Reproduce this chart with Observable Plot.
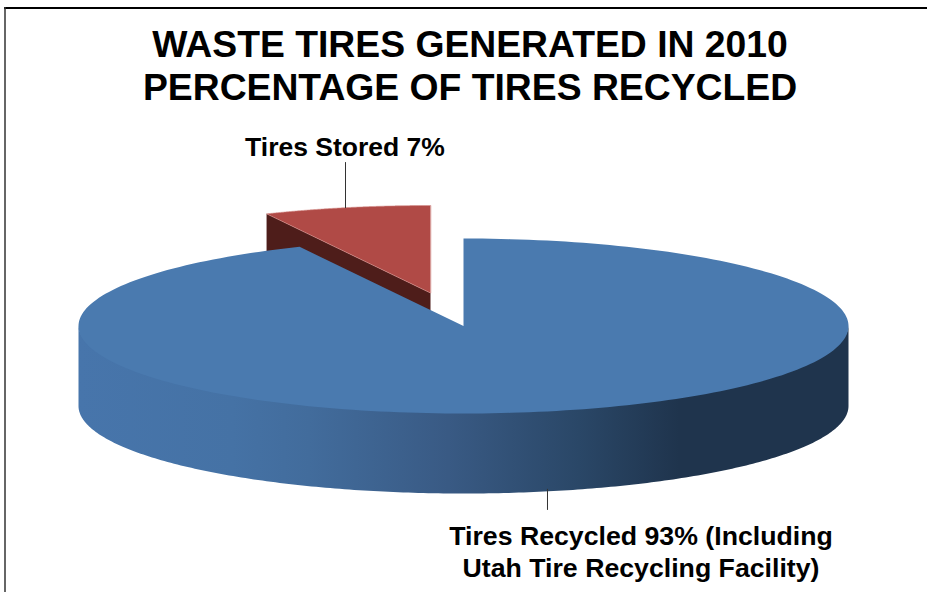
<!DOCTYPE html>
<html>
<head>
<meta charset="utf-8">
<script src="https://cdn.jsdelivr.net/npm/d3@7"></script>
<script src="https://cdn.jsdelivr.net/npm/@observablehq/plot@0.6"></script>
<style>
  html, body { margin: 0; padding: 0; background: #fff; }
  svg { display: block; }
</style>
</head>
<body>
<div id="chart"></div>
<script>
// Share of waste tires by outcome, 2010
const categories = ["Tires Recycled", "Tires Stored"];
const shares = [93, 7];
const titleLines = ["WASTE TIRES GENERATED IN 2010", "PERCENTAGE OF TIRES RECYCLED"];
const recycledLabel = ["Tires Recycled 93% (Including", "Utah Tire Recycling Facility)"];
const storedLabel = ["Tires Stored 7%"];

// Pie drawn as a tilted disc: ellipse on the page, with a wall below it
const W = 927, H = 592;
const cx = 463, cy = 325.5, rx = 385, ry = 87.5, depth = 80;
const explode = {dx: -33, dy: -33};

const total = d3.sum(shares);
const toAngle = (p) => (p / total) * 2 * Math.PI; // clockwise from 12 o'clock
const rim = (a, off = {dx: 0, dy: 0}, drop = 0) => ({
  x: cx + off.dx + rx * Math.sin(a),
  y: cy + off.dy + drop - ry * Math.cos(a)
});
const arc = (a0, a1, off, drop) =>
  d3.range(0, 241).map((i) => rim(a0 + ((a1 - a0) * i) / 240, off, drop));

const recycledEnd = toAngle(shares[0]);
const apex = {x: cx, y: cy};
const storedApex = {x: cx + explode.dx, y: cy + explode.dy};

// Top faces
const recycledTop = [apex, ...arc(0, recycledEnd)];
const storedTop = [storedApex, ...arc(recycledEnd, 2 * Math.PI, explode)];

// Front wall of the large slice; its upper edge tucks under the top face
const frontWall = [
  ...arc(Math.PI / 2, 1.5 * Math.PI, undefined, -1.5),
  ...arc(1.5 * Math.PI, Math.PI / 2, undefined, depth)
];

// Cut face of the small slice, mostly hidden behind the large one
const cutStart = rim(recycledEnd, explode);
const storedCut = [
  cutStart,
  storedApex,
  {x: storedApex.x, y: storedApex.y + depth},
  {x: cutStart.x, y: cutStart.y + depth}
];

// Leader lines leave each slice at its mid-angle
const recycledMid = rim(toAngle(shares[0] / 2), undefined, depth);
const storedMid = rim(toAngle(shares[0] + shares[1] / 2), explode);
const leaders = [
  {x: recycledMid.x, y1: recycledMid.y - 2, y2: recycledMid.y + 19},
  {x: storedMid.x - 1, y1: storedMid.y + 1, y2: storedMid.y - 45}
];

const texts = [
  ...titleLines.map((t, i) => ({t, x: 469.5, y: 45 + i * 43, size: 37.3})),
  ...storedLabel.map((t) => ({t, x: 344.5, y: 147, size: 26.5})),
  ...recycledLabel.map((t, i) => ({t, x: 640.5, y: 536 + i * 32, size: 26.7}))
];

const wallGradient = () => {
  const defs = d3.create("svg:defs");
  const g = defs.append("linearGradient").attr("id", "wallShade")
    .attr("x1", 0).attr("x2", 1).attr("y1", 0).attr("y2", 0);
  [[0, "#4775ab"], [0.2, "#4572a5"], [0.3, "#426c9c"], [0.48, "#395a84"],
   [0.65, "#2a4767"], [0.78, "#1f344d"], [1, "#1f344d"]].forEach(([o, c]) =>
    g.append("stop").attr("offset", o).attr("stop-color", c));
  return defs.node();
};

const line = (data, fill, extra = {}) =>
  Plot.line(data, {x: "x", y: "y", fill, stroke: "none", curve: "linear-closed", ...extra});

const plot = Plot.plot({
  width: W,
  height: H,
  margin: 0,
  x: {domain: [0, W], range: [0, W], axis: null},
  y: {domain: [0, H], range: [0, H], axis: null},
  marks: [
    wallGradient,
    // chart frame: top and left edges
    Plot.ruleY([7.5], {x1: 4, x2: W, stroke: "#000", strokeWidth: 2}),
    Plot.ruleX([4.5], {y1: 7, y2: H, stroke: "#333", strokeWidth: 1.5}),
    // small slice
    line(storedCut, "#4e1d1a"),
    line(storedTop, "#b04a46", {stroke: "#d58f8c", strokeWidth: 0.6}),
    // large slice
    line(frontWall, "url(#wallShade)"),
    line(recycledTop, "#4a7aaf"),
    // leaders and labels
    Plot.ruleX(leaders, {x: "x", y1: "y1", y2: "y2", stroke: "#333", strokeWidth: 1}),
    Plot.text(texts, {
      x: "x", y: "y", text: "t", fontSize: "size",
      fontFamily: "Liberation Sans", fontWeight: "bold", fill: "#000",
      textAnchor: "middle", lineAnchor: "middle"
    })
  ]
});
document.getElementById("chart").append(plot);
</script>
</body>
</html>
